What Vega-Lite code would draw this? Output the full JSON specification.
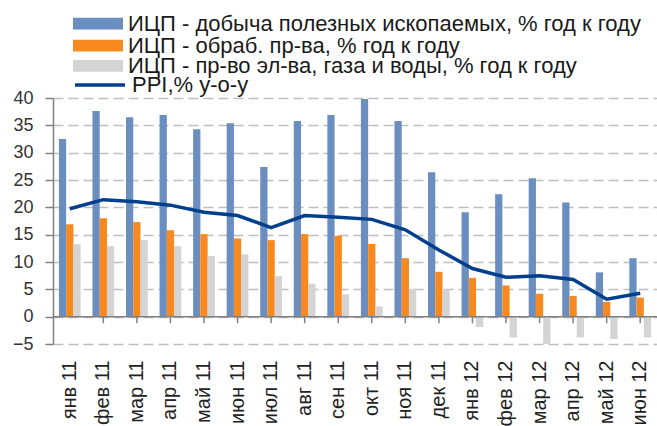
{
  "$schema": "https://vega.github.io/schema/vega-lite/v6.json",
  "width": 604,
  "height": 246,
  "autosize": "none",
  "padding": {"left": 53, "top": 98, "right": 0, "bottom": 82},
  "config": {"font": "Liberation Sans", "view": {"strokeWidth": 0}},
  "datasets": {
    "bars": [
      {"m": "янв 11", "s": "ИЦП - добыча полезных ископаемых, % год к году", "v": 32.5},
      {"m": "фев 11", "s": "ИЦП - добыча полезных ископаемых, % год к году", "v": 37.6},
      {"m": "мар 11", "s": "ИЦП - добыча полезных ископаемых, % год к году", "v": 36.5},
      {"m": "апр 11", "s": "ИЦП - добыча полезных ископаемых, % год к году", "v": 36.9},
      {"m": "май 11", "s": "ИЦП - добыча полезных ископаемых, % год к году", "v": 34.3},
      {"m": "июн 11", "s": "ИЦП - добыча полезных ископаемых, % год к году", "v": 35.4},
      {"m": "июл 11", "s": "ИЦП - добыча полезных ископаемых, % год к году", "v": 27.4},
      {"m": "авг 11", "s": "ИЦП - добыча полезных ископаемых, % год к году", "v": 35.8},
      {"m": "сен 11", "s": "ИЦП - добыча полезных ископаемых, % год к году", "v": 36.9},
      {"m": "окт 11", "s": "ИЦП - добыча полезных ископаемых, % год к году", "v": 39.8},
      {"m": "ноя 11", "s": "ИЦП - добыча полезных ископаемых, % год к году", "v": 35.8},
      {"m": "дек 11", "s": "ИЦП - добыча полезных ископаемых, % год к году", "v": 26.4},
      {"m": "янв 12", "s": "ИЦП - добыча полезных ископаемых, % год к году", "v": 19.1},
      {"m": "фев 12", "s": "ИЦП - добыча полезных ископаемых, % год к году", "v": 22.4},
      {"m": "мар 12", "s": "ИЦП - добыча полезных ископаемых, % год к году", "v": 25.3},
      {"m": "апр 12", "s": "ИЦП - добыча полезных ископаемых, % год к году", "v": 20.9},
      {"m": "май 12", "s": "ИЦП - добыча полезных ископаемых, % год к году", "v": 8.1},
      {"m": "июн 12", "s": "ИЦП - добыча полезных ископаемых, % год к году", "v": 10.7},
      {"m": "янв 11", "s": "ИЦП - обраб. пр-ва, % год к году", "v": 16.9},
      {"m": "фев 11", "s": "ИЦП - обраб. пр-ва, % год к году", "v": 18.0},
      {"m": "мар 11", "s": "ИЦП - обраб. пр-ва, % год к году", "v": 17.3},
      {"m": "апр 11", "s": "ИЦП - обраб. пр-ва, % год к году", "v": 15.8},
      {"m": "май 11", "s": "ИЦП - обраб. пр-ва, % год к году", "v": 15.1},
      {"m": "июн 11", "s": "ИЦП - обраб. пр-ва, % год к году", "v": 14.3},
      {"m": "июл 11", "s": "ИЦП - обраб. пр-ва, % год к году", "v": 14.0},
      {"m": "авг 11", "s": "ИЦП - обраб. пр-ва, % год к году", "v": 15.1},
      {"m": "сен 11", "s": "ИЦП - обраб. пр-ва, % год к году", "v": 14.8},
      {"m": "окт 11", "s": "ИЦП - обраб. пр-ва, % год к году", "v": 13.3},
      {"m": "ноя 11", "s": "ИЦП - обраб. пр-ва, % год к году", "v": 10.7},
      {"m": "дек 11", "s": "ИЦП - обраб. пр-ва, % год к году", "v": 8.2},
      {"m": "янв 12", "s": "ИЦП - обраб. пр-ва, % год к году", "v": 7.1},
      {"m": "фев 12", "s": "ИЦП - обраб. пр-ва, % год к году", "v": 5.7},
      {"m": "мар 12", "s": "ИЦП - обраб. пр-ва, % год к году", "v": 4.2},
      {"m": "апр 12", "s": "ИЦП - обраб. пр-ва, % год к году", "v": 3.8},
      {"m": "май 12", "s": "ИЦП - обраб. пр-ва, % год к году", "v": 2.7},
      {"m": "июн 12", "s": "ИЦП - обраб. пр-ва, % год к году", "v": 3.5},
      {"m": "янв 11", "s": "ИЦП - пр-во эл-ва, газа и воды, % год к году", "v": 13.25},
      {"m": "фев 11", "s": "ИЦП - пр-во эл-ва, газа и воды, % год к году", "v": 12.9},
      {"m": "мар 11", "s": "ИЦП - пр-во эл-ва, газа и воды, % год к году", "v": 14.0},
      {"m": "апр 11", "s": "ИЦП - пр-во эл-ва, газа и воды, % год к году", "v": 12.9},
      {"m": "май 11", "s": "ИЦП - пр-во эл-ва, газа и воды, % год к году", "v": 11.1},
      {"m": "июн 11", "s": "ИЦП - пр-во эл-ва, газа и воды, % год к году", "v": 11.4},
      {"m": "июл 11", "s": "ИЦП - пр-во эл-ва, газа и воды, % год к году", "v": 7.4},
      {"m": "авг 11", "s": "ИЦП - пр-во эл-ва, газа и воды, % год к году", "v": 6.0},
      {"m": "сен 11", "s": "ИЦП - пр-во эл-ва, газа и воды, % год к году", "v": 4.1},
      {"m": "окт 11", "s": "ИЦП - пр-во эл-ва, газа и воды, % год к году", "v": 1.9},
      {"m": "ноя 11", "s": "ИЦП - пр-во эл-ва, газа и воды, % год к году", "v": 5.1},
      {"m": "дек 11", "s": "ИЦП - пр-во эл-ва, газа и воды, % год к году", "v": 5.0},
      {"m": "янв 12", "s": "ИЦП - пр-во эл-ва, газа и воды, % год к году", "v": -1.9},
      {"m": "фев 12", "s": "ИЦП - пр-во эл-ва, газа и воды, % год к году", "v": -3.8},
      {"m": "мар 12", "s": "ИЦП - пр-во эл-ва, газа и воды, % год к году", "v": -5.0},
      {"m": "апр 12", "s": "ИЦП - пр-во эл-ва, газа и воды, % год к году", "v": -3.8},
      {"m": "май 12", "s": "ИЦП - пр-во эл-ва, газа и воды, % год к году", "v": -4.1},
      {"m": "июн 12", "s": "ИЦП - пр-во эл-ва, газа и воды, % год к году", "v": -3.8}
    ],
    "ppi": [
      {"m": "янв 11", "v": 19.75},
      {"m": "фев 11", "v": 21.4},
      {"m": "мар 11", "v": 21.0},
      {"m": "апр 11", "v": 20.4},
      {"m": "май 11", "v": 19.1},
      {"m": "июн 11", "v": 18.5},
      {"m": "июл 11", "v": 16.3},
      {"m": "авг 11", "v": 18.5},
      {"m": "сен 11", "v": 18.2},
      {"m": "окт 11", "v": 17.8},
      {"m": "ноя 11", "v": 15.9},
      {"m": "дек 11", "v": 12.2},
      {"m": "янв 12", "v": 8.8},
      {"m": "фев 12", "v": 7.2},
      {"m": "мар 12", "v": 7.5},
      {"m": "апр 12", "v": 6.8},
      {"m": "май 12", "v": 3.2},
      {"m": "июн 12", "v": 4.3}
    ],
    "zeroline": [
      {"g": 0, "p": 0}, {"g": 0, "p": 1}
    ],
    "mticks": [
      {"m": "фев 11", "g": 0}, {"m": "фев 11", "g": -1.2},
      {"m": "мар 11", "g": 0}, {"m": "мар 11", "g": -1.2},
      {"m": "апр 11", "g": 0}, {"m": "апр 11", "g": -1.2},
      {"m": "май 11", "g": 0}, {"m": "май 11", "g": -1.2},
      {"m": "июн 11", "g": 0}, {"m": "июн 11", "g": -1.2},
      {"m": "июл 11", "g": 0}, {"m": "июл 11", "g": -1.2},
      {"m": "авг 11", "g": 0}, {"m": "авг 11", "g": -1.2},
      {"m": "сен 11", "g": 0}, {"m": "сен 11", "g": -1.2},
      {"m": "окт 11", "g": 0}, {"m": "окт 11", "g": -1.2},
      {"m": "ноя 11", "g": 0}, {"m": "ноя 11", "g": -1.2},
      {"m": "дек 11", "g": 0}, {"m": "дек 11", "g": -1.2},
      {"m": "янв 12", "g": 0}, {"m": "янв 12", "g": -1.2},
      {"m": "фев 12", "g": 0}, {"m": "фев 12", "g": -1.2},
      {"m": "мар 12", "g": 0}, {"m": "мар 12", "g": -1.2},
      {"m": "апр 12", "g": 0}, {"m": "апр 12", "g": -1.2},
      {"m": "май 12", "g": 0}, {"m": "май 12", "g": -1.2},
      {"m": "июн 12", "g": 0}, {"m": "июн 12", "g": -1.2}
    ]
  },
  "layer": [
    {
      "data": {"name": "bars"},
      "transform": [{"filter": "datum.s == 'ИЦП - добыча полезных ископаемых, % год к году'"}],
      "mark": {"type": "bar"},
      "encoding": {
        "x": {
          "field": "m", "type": "nominal",
          "sort": ["янв 11","фев 11","мар 11","апр 11","май 11","июн 11","июл 11","авг 11","сен 11","окт 11","ноя 11","дек 11","янв 12","фев 12","мар 12","апр 12","май 12","июн 12"],
          "scale": {"paddingInner": 0, "paddingOuter": 0},
          "axis": {"orient": "bottom", "title": null, "labelAngle": -90, "labelFontSize": 20, "labelColor": "#222222", "ticks": false, "domain": false, "labelPadding": 16, "grid": false, "labelOverlap": false}
        },
        "xOffset": {
          "field": "s", "type": "nominal",
          "scale": {"domain": ["ИЦП - добыча полезных ископаемых, % год к году", "ИЦП - обраб. пр-ва, % год к году", "ИЦП - пр-во эл-ва, газа и воды, % год к году"], "paddingInner": 0, "paddingOuter": 0.815}
        },
        "y": {
          "field": "v", "type": "quantitative",
          "scale": {"domain": [-5, 40], "nice": false, "zero": false},
          "axis": {"title": null, "values": [-5,0,5,10,15,20,25,30,35,40], "tickCount": 12, "labelOverlap": false, "labelFontSize": 18, "labelColor": "#333333", "labelPadding": 12, "ticks": true, "tickSize": 8, "tickColor": "#808080", "tickWidth": 1.5, "domain": true, "domainColor": "#808080", "domainWidth": 1.5, "grid": true, "gridColor": "#bfbfbf", "gridWidth": 1.7, "gridDash": [10, 5], "gridOpacity": 1}
        },
        "fill": {
          "datum": "ИЦП - добыча полезных ископаемых, % год к году",
          "scale": {"range": ["#6a8ec0"]},
          "legend": {"orient": "none", "legendX": 20, "legendY": -99.3, "title": null, "symbolType": "M-1,-0.234H1V0.234H-1Z", "symbolSize": 2500, "symbolStrokeWidth": 0, "symbolOpacity": 1, "labelFontSize": 22, "labelColor": "#1a1a1a", "labelLimit": 700, "labelOffset": 5}
        }
      }
    },
    {
      "data": {"name": "bars"},
      "transform": [{"filter": "datum.s == 'ИЦП - обраб. пр-ва, % год к году'"}],
      "mark": {"type": "bar"},
      "encoding": {
        "x": {
          "field": "m", "type": "nominal",
          "sort": ["янв 11","фев 11","мар 11","апр 11","май 11","июн 11","июл 11","авг 11","сен 11","окт 11","ноя 11","дек 11","янв 12","фев 12","мар 12","апр 12","май 12","июн 12"],
          "scale": {"paddingInner": 0, "paddingOuter": 0},
          "axis": null
        },
        "xOffset": {
          "field": "s", "type": "nominal",
          "scale": {"domain": ["ИЦП - добыча полезных ископаемых, % год к году", "ИЦП - обраб. пр-ва, % год к году", "ИЦП - пр-во эл-ва, газа и воды, % год к году"], "paddingInner": 0, "paddingOuter": 0.815}
        },
        "y": {"field": "v", "type": "quantitative"},
        "fill": {
          "datum": "ИЦП - обраб. пр-ва, % год к году",
          "scale": {"range": ["#f7891f"]},
          "legend": {"orient": "none", "legendX": 20, "legendY": -77.3, "title": null, "symbolType": "M-1,-0.234H1V0.234H-1Z", "symbolSize": 2500, "symbolStrokeWidth": 0, "symbolOpacity": 1, "labelFontSize": 22, "labelColor": "#1a1a1a", "labelLimit": 700, "labelOffset": 5}
        }
      }
    },
    {
      "data": {"name": "bars"},
      "transform": [{"filter": "datum.s == 'ИЦП - пр-во эл-ва, газа и воды, % год к году'"}],
      "mark": {"type": "bar"},
      "encoding": {
        "x": {
          "field": "m", "type": "nominal",
          "sort": ["янв 11","фев 11","мар 11","апр 11","май 11","июн 11","июл 11","авг 11","сен 11","окт 11","ноя 11","дек 11","янв 12","фев 12","мар 12","апр 12","май 12","июн 12"],
          "scale": {"paddingInner": 0, "paddingOuter": 0},
          "axis": null
        },
        "xOffset": {
          "field": "s", "type": "nominal",
          "scale": {"domain": ["ИЦП - добыча полезных ископаемых, % год к году", "ИЦП - обраб. пр-ва, % год к году", "ИЦП - пр-во эл-ва, газа и воды, % год к году"], "paddingInner": 0, "paddingOuter": 0.815}
        },
        "y": {"field": "v", "type": "quantitative"},
        "fill": {
          "datum": "ИЦП - пр-во эл-ва, газа и воды, % год к году",
          "scale": {"range": ["#d4d4d4"]},
          "legend": {"orient": "none", "legendX": 20, "legendY": -57.2, "title": null, "symbolType": "M-1,-0.234H1V0.234H-1Z", "symbolSize": 2500, "symbolStrokeWidth": 0, "symbolOpacity": 1, "labelFontSize": 22, "labelColor": "#1a1a1a", "labelLimit": 700, "labelOffset": 5}
        }
      }
    },
    {
      "data": {"name": "zeroline"},
      "mark": {"type": "line", "color": "#808080", "strokeWidth": 1.5},
      "encoding": {
        "x": {"field": "p", "type": "quantitative", "scale": {"domain": [0, 1], "nice": false, "zero": false}, "axis": null},
        "y": {"field": "g", "type": "quantitative"}
      }
    },
    {
      "data": {"name": "mticks"},
      "mark": {"type": "line", "color": "#808080", "strokeWidth": 1.5},
      "encoding": {
        "x": {
          "field": "m", "type": "nominal", "bandPosition": 0,
          "scale": {"domain": ["янв 11","фев 11","мар 11","апр 11","май 11","июн 11","июл 11","авг 11","сен 11","окт 11","ноя 11","дек 11","янв 12","фев 12","мар 12","апр 12","май 12","июн 12"], "paddingInner": 0, "paddingOuter": 0},
          "axis": null
        },
        "y": {"field": "g", "type": "quantitative"},
        "detail": {"field": "m", "type": "nominal"}
      }
    },
    {
      "data": {"name": "ppi"},
      "mark": {"type": "line", "strokeWidth": 3.5},
      "encoding": {
        "x": {
          "field": "m", "type": "nominal",
          "sort": ["янв 11","фев 11","мар 11","апр 11","май 11","июн 11","июл 11","авг 11","сен 11","окт 11","ноя 11","дек 11","янв 12","фев 12","мар 12","апр 12","май 12","июн 12"],
          "scale": {"paddingInner": 0, "paddingOuter": 0},
          "axis": null
        },
        "y": {"field": "v", "type": "quantitative"},
        "stroke": {
          "datum": "PPI,% y-o-y",
          "scale": {"range": ["#003f8c"]},
          "legend": {"orient": "none", "legendX": 20, "legendY": -40, "title": null, "symbolType": "stroke", "symbolSize": 2500, "symbolStrokeWidth": 3.5, "labelFontSize": 22, "labelColor": "#1a1a1a", "labelLimit": 700, "labelOffset": 5}
        }
      }
    }
  ],
  "resolve": {"scale": {"x": "independent", "fill": "independent"}, "legend": {"fill": "independent"}}
}
